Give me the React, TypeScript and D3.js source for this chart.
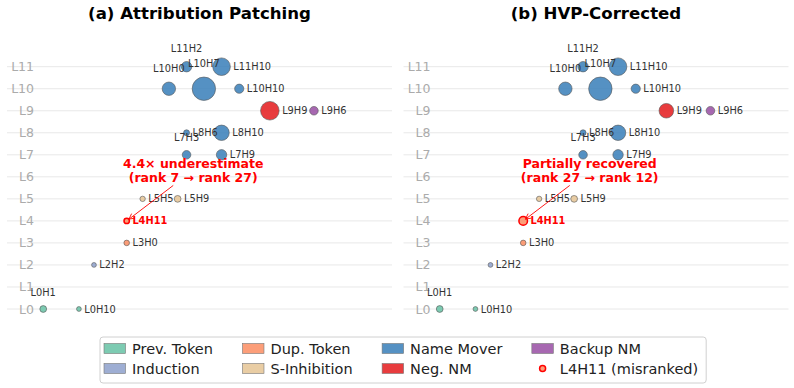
import React from 'react';
import * as d3 from 'd3';

// Attention heads shown in both panels
const heads = ['L0H1', 'L0H10', 'L2H2', 'L3H0', 'L4H11', 'L5H5', 'L5H9', 'L7H3', 'L7H9', 'L8H6', 'L8H10', 'L9H9', 'L9H6', 'L10H0', 'L10H7', 'L10H10', 'L11H2', 'L11H10'];
const headLayers = [0, 0, 2, 3, 4, 5, 5, 7, 7, 8, 8, 9, 9, 10, 10, 10, 11, 11];
// horizontal layout slot of every head (arbitrary units)
const headSlots = [0, 2.04, 2.9, 4.77, 4.77, 5.68, 7.68, 8.19, 10.19, 8.19, 10.19, 12.95, 15.47, 7.18, 9.18, 11.2, 8.19, 10.19];
const headRoles = ['Prev. Token', 'Prev. Token', 'Induction', 'Dup. Token', 'Dup. Token', 'S-Inhibition', 'S-Inhibition', 'Name Mover', 'Name Mover', 'Name Mover', 'Name Mover', 'Neg. NM', 'Backup NM', 'Name Mover', 'Name Mover', 'Name Mover', 'Name Mover', 'Name Mover'];
const labelSides = ['above', 'right', 'right', 'right', 'right', 'right', 'right', 'above', 'right', 'right', 'right', 'right', 'right', 'above', 'above', 'right', 'above', 'right'];

// normalised importance scores
const apScores = [0.042, 0.012, 0.012, 0.022, 0.019, 0.019, 0.042, 0.085, 0.143, 0.028, 0.381, 0.593, 0.085, 0.272, 1.0, 0.103, 0.143, 0.522];
const hvpScores = [0.042, 0.012, 0.012, 0.022, 0.084, 0.019, 0.042, 0.085, 0.143, 0.028, 0.381, 0.335, 0.085, 0.272, 1.0, 0.103, 0.143, 0.522];

const misrankedHead = 'L4H11';
const layerTicks = d3.range(12);

const roleNames = ['Prev. Token', 'Induction', 'Dup. Token', 'S-Inhibition', 'Name Mover', 'Neg. NM', 'Backup NM'];
const roleColors = ['#66c2a5', '#8da0cb', '#fc8d62', '#e5c494', '#377eb8', '#e41a1c', '#984ea3'];

const panelTitles = ['(a) Attribution Patching', '(b) HVP-Corrected'];
const panelNotes = [
  ['4.4× underestimate', '(rank 7 → rank 27)'],
  ['Partially recovered', '(rank 27 → rank 12)'],
];
const noteAnchor = { slot: 8.57, layer: 6.3 };

const W = 794;
const H = 388;
const FONT = "'DejaVu Sans', sans-serif";
const panelLeft = [7, 403.5];
const panelWidth = 385;

const colorOf = d3.scaleOrdinal<string, string>().domain(roleNames).range(roleColors);
const radius = d3.scaleSqrt().domain([0, 1]).range([1.25, 11.7]);
const yScale = d3.scaleLinear().domain([0, 11]).range([309, 66.7]);

let measureCtx: CanvasRenderingContext2D | null = null;
function textWidth(s: string, size: number, weight = 'normal') {
  if (!measureCtx) measureCtx = document.createElement('canvas').getContext('2d');
  if (!measureCtx) return s.length * size * 0.6;
  measureCtx.font = `${weight} ${size}px 'DejaVu Sans'`;
  return measureCtx.measureText(s).width;
}

function Panel({ index }: { index: number }) {
  const left = panelLeft[index];
  const x = d3.scaleLinear().domain([-2.07, 19.93]).range([left, left + panelWidth]);
  const scores = index === 0 ? apScores : hvpScores;
  const nodes = heads.map((h, i) => ({
    name: h,
    cx: x(headSlots[i]),
    cy: yScale(headLayers[i]),
    r: radius(scores[i]),
    color: colorOf(headRoles[i]),
    side: labelSides[i],
    mis: h === misrankedHead,
  }));

  // annotation arrow toward the misranked head
  const target = nodes.find((n) => n.mis)!;
  const ax = x(noteAnchor.slot);
  const ay = yScale(noteAnchor.layer);
  const boxBottom = ay + 15.2;
  const t = (boxBottom - ay) / (target.cy - ay);
  const sx = ax + t * (target.cx - ax);
  const sy = boxBottom;
  const dx = target.cx - sx;
  const dy = target.cy - sy;
  const len = Math.hypot(dx, dy);
  const ux = dx / len;
  const uy = dy / len;
  const ex = target.cx - ux * 2.8;
  const ey = target.cy - uy * 2.8;
  const hl = 5.5;
  const hw = 2.8;
  const headPath = `M${ex - ux * hl - uy * hw},${ey - uy * hl + ux * hw} L${ex},${ey} L${ex - ux * hl + uy * hw},${ey - uy * hl - ux * hw}`;

  return (
    <g>
      <text x={left + panelWidth / 2} y={19.3} textAnchor="middle" fontFamily={FONT} fontWeight="bold" fontSize={16.6} fill="#000">
        {panelTitles[index]}
      </text>
      {layerTicks.map((l) => (
        <line key={`g${l}`} x1={left} x2={left + panelWidth} y1={yScale(l)} y2={yScale(l)} stroke="#e8e8e8" strokeWidth={1} />
      ))}
      {layerTicks.map((l) => (
        <text key={`t${l}`} x={left + 27} y={yScale(l)} dominantBaseline="central" textAnchor="end" fontFamily={FONT} fontSize={12.5} fill="#ababab">
          {`L${l}`}
        </text>
      ))}
      {nodes.map((n) =>
        n.mis ? (
          <circle key={n.name} cx={n.cx} cy={n.cy} r={n.r} fill={n.color} fillOpacity={0.85} stroke="#ff0000" strokeWidth={1.5} />
        ) : (
          <circle key={n.name} cx={n.cx} cy={n.cy} r={n.r} fill={n.color} fillOpacity={0.85} stroke="#555" strokeWidth={0.6} />
        )
      )}
      {nodes.map((n) =>
        n.side === 'above' ? (
          <text key={`l${n.name}`} x={n.cx} y={n.cy - n.r - 13.3} textAnchor="middle" dominantBaseline="central" fontFamily={FONT} fontSize={9.8} fill="#333">
            {n.name}
          </text>
        ) : (
          <text
            key={`l${n.name}`}
            x={n.cx + n.r + 3}
            y={n.cy}
            dominantBaseline="central"
            fontFamily={FONT}
            fontSize={9.8}
            fontWeight={n.mis ? 'bold' : 'normal'}
            fill={n.mis ? '#ff0000' : '#333'}
          >
            {n.name}
          </text>
        )
      )}
      <line x1={sx} y1={sy} x2={ex} y2={ey} stroke="#ff0000" strokeWidth={0.9} />
      <path d={headPath} fill="none" stroke="#ff0000" strokeWidth={0.9} />
      {panelNotes[index].map((line, k) => (
        <text key={`n${k}`} x={ax} y={ay - 7 + k * 14} dominantBaseline="central" textAnchor="middle" fontFamily={FONT} fontWeight="bold" fontSize={12.5} fill="#ff0000">
          {line}
        </text>
      ))}
    </g>
  );
}

function Legend() {
  const f = 14.5;
  const entries = [
    ...roleNames.map((r, i) => ({ label: r, color: roleColors[i], marker: false })),
    { label: `${misrankedHead} (misranked)`, color: colorOf('Dup. Token'), marker: true },
  ];
  const cols = [0, 1, 2, 3].map((c) => entries.slice(c * 2, c * 2 + 2));
  const handle = 21.5;
  const handleH = 10;
  const pad = 6.5;
  const colGap = 29.5;
  const border = 4;
  const colWidths = cols.map((col) => handle + pad + d3.max(col, (e) => textWidth(e.label, f))!);
  const total = 2 * border + d3.sum(colWidths) + colGap * (cols.length - 1) + 4;
  const bx = 100;
  const by = 337;
  const bh = 46;
  const rowY = [by + 11.5, by + 31.5];
  let cursor = bx + border;
  const colX = colWidths.map((w) => {
    const cx = cursor;
    cursor += w + colGap;
    return cx;
  });
  return (
    <g>
      <rect x={bx} y={by} width={total} height={bh} rx={3} fill="#fff" fillOpacity={0.8} stroke="#d0d0d0" strokeWidth={1} />
      {cols.map((col, c) =>
        col.map((e, r) => (
          <g key={e.label}>
            {e.marker ? (
              <circle cx={colX[c] + handle / 2} cy={rowY[r]} r={3} fill={e.color} fillOpacity={0.85} stroke="#ff0000" strokeWidth={1.5} />
            ) : (
              <rect x={colX[c]} y={rowY[r] - handleH / 2} width={handle} height={handleH} fill={e.color} fillOpacity={0.85} stroke="#777" strokeWidth={0.6} />
            )}
            <text x={colX[c] + handle + pad} y={rowY[r]} dominantBaseline="central" fontFamily={FONT} fontSize={f} fill="#222">
              {e.label}
            </text>
          </g>
        ))
      )}
    </g>
  );
}

export default function App() {
  return (
    <svg width={W} height={H} style={{ position: 'absolute', left: 0, top: 0, background: '#fff' }}>
      <rect width={W} height={H} fill="#fff" />
      <Panel index={0} />
      <Panel index={1} />
      <Legend />
    </svg>
  );
}
